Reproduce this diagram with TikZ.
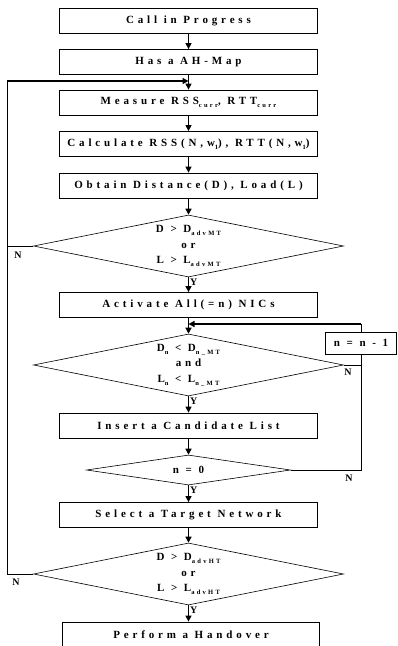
\documentclass[tikz,border=0pt]{standalone}
\usepackage{fontspec}
\setmainfont{Liberation Serif}[LetterSpace=35]
\usetikzlibrary{shapes.geometric,arrows.meta}

\newcommand{\lowsub}[1]{\raisebox{-3pt}{\fontsize{6.5}{6.5}\selectfont #1}}

\tikzset{
  stepbox/.style={draw, line width=0.8pt, minimum width=258pt, minimum height=25pt,
    inner sep=0pt, font=\bfseries\fontsize{11}{13}\selectfont},
  testbox/.style={draw, diamond, line width=0.6pt, aspect=5, inner sep=0pt,
    minimum width=310pt, minimum height=62pt, align=center,
    font=\bfseries\fontsize{11}{15.5}\selectfont},
  flow/.style={-{Triangle[length=6pt,width=6pt]}, line width=1.3pt},
  back/.style={line width=0.8pt},
  lbl/.style={font=\bfseries\fontsize{10}{10}\selectfont, inner sep=1pt}
}

\begin{document}
\begin{tikzpicture}[x=1pt,y=-1pt]
\useasboundingbox (0,0) rectangle (398,646);

\node[stepbox] (call) at (188.5,20.5) {Call in Progress};
\node[stepbox] (has) at (188.5,62) {Has a AH-Map};
\node[stepbox] (measure) at (188.5,102.5) {Measure RSS\lowsub{curr}, RTT\lowsub{curr}};
\node[stepbox] (calc) at (188.5,144) {Calculate RSS(N,w\lowsub{1}), RTT(N,w\lowsub{1})};
\node[stepbox] (obtain) at (188.5,185.5) {Obtain Distance(D), Load(L)};
\node[testbox] (d1) at (188.5,246) {D > D\lowsub{advMT}\\ or\\ L > L\lowsub{advMT}};
\node[stepbox] (act) at (188.5,305) {Activate All(=n) NICs};
\node[testbox] (d2) at (188.5,365) {D\lowsub{n} < D\lowsub{n\_MT}\\ and\\ L\lowsub{n} < L\lowsub{n\_MT}};
\node[stepbox] (ins) at (188.5,425.5) {Insert a Candidate List};
\node[testbox, minimum width=204pt, minimum height=30pt] (d3) at (188.5,470) {n = 0};
\node[stepbox] (sel) at (188.5,515) {Select a Target Network};
\node[testbox] (d4) at (188.5,574) {D > D\lowsub{advHT}\\ or\\ L > L\lowsub{advHT}};
\node[stepbox, minimum width=257pt, minimum height=26pt] (perf) at (191,635) {Perform a Handover};
\node[stepbox, minimum width=71pt, minimum height=22pt] (dec) at (361,343) {n = n - 1};

% main flow
\draw[flow] (call) -- (has);
\draw[flow] (has) -- (measure);
\draw[flow] (measure) -- (calc);
\draw[flow] (calc) -- (obtain);
\draw[flow] (obtain) -- (d1);
\draw[flow] (d1) -- (act) node[lbl, pos=0, anchor=north west] {Y};
\draw[flow] (act) -- (d2);
\draw[flow] (d2) -- (ins) node[lbl, pos=0, anchor=north west] {Y};
\draw[flow] (ins) -- (d3);
\draw[flow] (d3) -- (sel) node[lbl, pos=0, anchor=north west] {Y};
\draw[flow] (sel) -- (d4);
\draw[flow] (d4) -- (perf.north -| d4) node[lbl, pos=0, anchor=north west] {Y};

% left loop back to measuring
\coordinate (loopin) at (188.5,81);
\coordinate (lefttop) at (7,81);
\coordinate (leftbot) at (7,574);
\draw[back] (d4.west) -- (leftbot) -- (lefttop);
\draw[flow] (lefttop) -- (loopin);
\draw[back] (d1.west) -- (d1.west -| lefttop);
\node[lbl] (n1) at (18,255) {N};
\node[lbl] (n4) at (16,582) {N};

% right loop over the NICs
\coordinate (joinin) at (188.5,324);
\draw[back] (d3.east) -- (d3.east -| dec) -- (dec);
\draw[back] (d2.east) -- (d2.east -| dec);
\draw[back] (dec) -- (dec |- joinin);
\draw[flow] (dec |- joinin) -- (joinin);
\node[lbl] (n2) at (348,372) {N};
\node[lbl] (n3) at (349,478) {N};
\end{tikzpicture}
\end{document}
